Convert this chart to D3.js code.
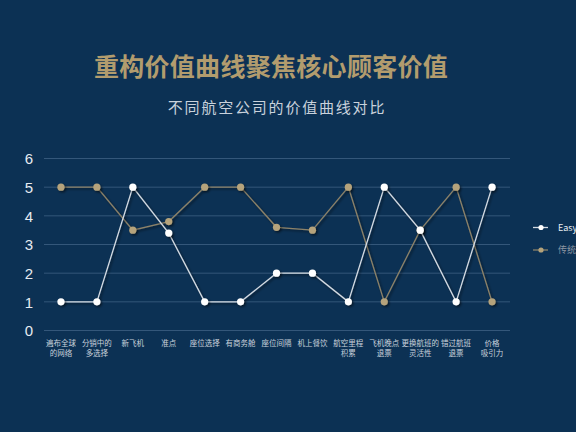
<!DOCTYPE html>
<html>
<head>
<meta charset="utf-8">
<script src="https://cdn.jsdelivr.net/npm/d3@7"></script>
<style>
html,body{margin:0;padding:0;background:#0c3154;overflow:hidden;}
svg{display:block;}
</style>
</head>
<body>
<svg id="chart" width="576" height="432"></svg>
<script>
const titleText = "重构价值曲线聚焦核心顾客价值";
const subtitleText = "不同航空公司的价值曲线对比";
const categories = ["遍布全球\n的网络","分销中的\n多选择","新飞机","准点","座位选择","有商务舱","座位间隔","机上餐饮","航空里程\n积累","飞机晚点\n退票","更换航班的\n灵活性","错过航班\n退票","价格\n吸引力"];
const seriesNames = ["EasyJet","传统航空公司"];
const easyJet = [1,1,5,3.4,1,1,2,2,1,5,3.5,1,5];
const traditional = [5,5,3.5,3.8,5,5,3.6,3.5,5,1,3.5,5,1];
const yTicks = [0,1,2,3,4,5,6];

const lineColors = ["#d4dbe3","#8c8269"];
const markerColors = ["#ffffff","#b5a37b"];
const legendText = ["#e8edf2","#8c96a2"];
const cjk = "'Noto Sans CJK SC','Noto Sans',sans-serif";

const svg = d3.select("#chart");
const defs = svg.append("defs");
const f = defs.append("filter").attr("id","sh").attr("x","-50%").attr("y","-50%").attr("width","200%").attr("height","200%");
f.append("feDropShadow").attr("dx",1.5).attr("dy",1.5).attr("stdDeviation",1.2).attr("flood-color","#000").attr("flood-opacity",0.55);

svg.append("rect").attr("width",576).attr("height",432).attr("fill","#0c3154");

svg.append("text").attr("x",271).attr("y",76).attr("text-anchor","middle")
  .style("font-family",cjk)
  .attr("font-size",25).attr("font-weight","bold").attr("fill","#b29c6e")
  .attr("letter-spacing","0.3px").text(titleText);
svg.append("text").attr("x",277).attr("y",113).attr("text-anchor","middle")
  .style("font-family",cjk)
  .attr("font-size",15).attr("fill","#c9d2dc").attr("letter-spacing","1.8px").text(subtitleText);

const x = d3.scaleBand().domain(categories).range([43,510]);
const y = d3.scaleLinear().domain([0,6]).range([330.5,158.5]);

const g = svg.append("g");
g.selectAll("line.grid").data(yTicks).join("line").attr("class","grid")
  .attr("x1",44).attr("x2",510).attr("y1",d=>y(d)).attr("y2",d=>y(d))
  .attr("stroke","#34577a").attr("stroke-width",1);

const yAxis = d3.axisLeft(y).tickValues(yTicks).tickFormat(d3.format("d")).tickSize(0).tickPadding(0);
const ya = svg.append("g").attr("transform","translate(33,0)").call(yAxis);
ya.select(".domain").remove();
ya.selectAll("text").attr("fill","#e6ebf1").attr("font-size",15)
  .style("font-family","'Liberation Sans',Arial,sans-serif").attr("dy","0.35em");

const xa = svg.append("g").attr("transform","translate(0,343)");
categories.forEach(c=>{
  const lines = c.split("\n");
  const t = xa.append("text").attr("text-anchor","middle").attr("font-size",7.5).attr("fill","#c9d2dc").style("font-family",cjk);
  lines.forEach((l,i)=>{
    t.append("tspan").attr("x",x(c)+x.bandwidth()/2).attr("y",i*10).attr("dy","0.35em").text(l);
  });
});

const cx = d => x(d)+x.bandwidth()/2;
const series = [easyJet, traditional];
const line = d3.line().x((d,i)=>cx(categories[i])).y(d=>y(d));
[1,0].forEach(si=>{
  const gs = svg.append("g");
  gs.append("path").datum(series[si]).attr("d",line).attr("fill","none")
    .attr("stroke",lineColors[si]).attr("stroke-width",1.3).attr("filter","url(#sh)");
  gs.selectAll("circle").data(series[si]).join("circle")
    .attr("cx",(d,i)=>cx(categories[i])).attr("cy",d=>y(d)).attr("r",3.6)
    .attr("fill",markerColors[si]).attr("filter","url(#sh)");
});

const lg = svg.append("g");
seriesNames.forEach((n,i)=>{
  const yy = 227.5 + i*22.5;
  lg.append("line").attr("x1",533).attr("x2",548).attr("y1",yy).attr("y2",yy).attr("stroke",lineColors[i]).attr("stroke-width",1.3);
  lg.append("circle").attr("cx",541).attr("cy",yy).attr("r",2.6).attr("fill",markerColors[i]);
  lg.append("text").attr("x",558).attr("y",yy).attr("dy","0.35em").attr("font-size",9).attr("fill",legendText[i])
    .style("font-family",cjk).text(n);
});
</script>
</body>
</html>
